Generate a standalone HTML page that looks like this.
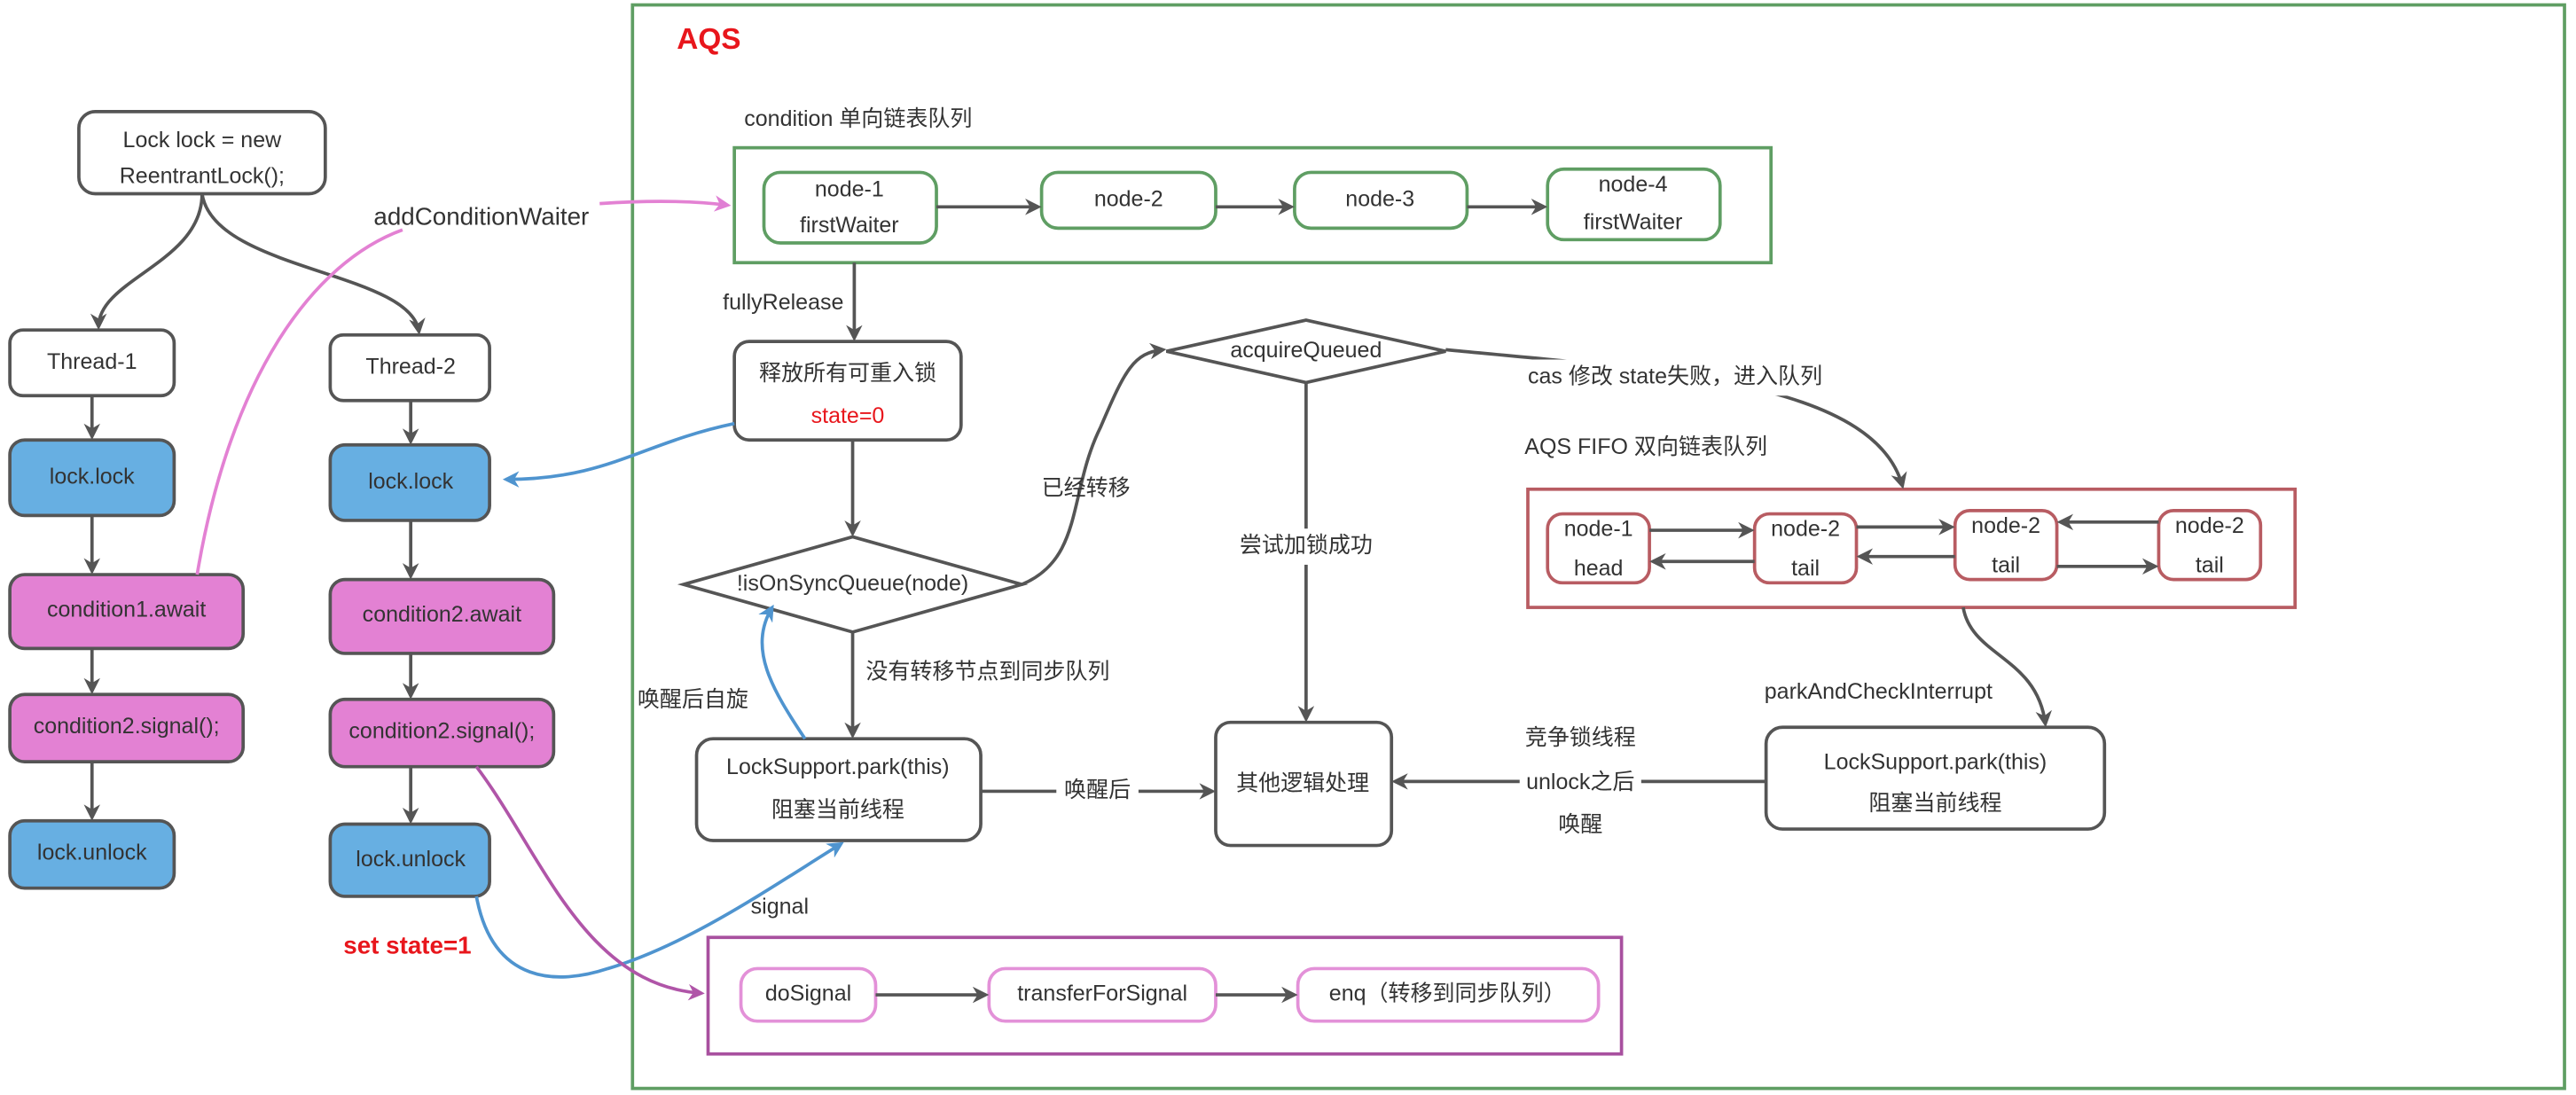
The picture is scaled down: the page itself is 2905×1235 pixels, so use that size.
<!DOCTYPE html>
<html><head><meta charset="utf-8"><style>
html,body{margin:0;padding:0;background:#fff;width:2905px;height:1235px;overflow:hidden}
svg{display:block}
text{font-family:"Liberation Sans","Noto Sans CJK SC",sans-serif;font-size:13.5px;fill:#333;text-anchor:middle;dominant-baseline:middle}
.l{text-anchor:start}
</style></head><body>
<svg width="2905" height="1235" viewBox="0 0 1568 667" preserveAspectRatio="none" xmlns="http://www.w3.org/2000/svg">
<defs>
<marker id="ag" markerWidth="10" markerHeight="10" refX="8" refY="5" orient="auto" markerUnits="userSpaceOnUse"><path d="M0,0 L10,5 L0,10 L3,5z" fill="#555"/></marker>
<marker id="ab" markerWidth="10" markerHeight="10" refX="8" refY="5" orient="auto" markerUnits="userSpaceOnUse"><path d="M0,0 L10,5 L0,10 L3,5z" fill="#4f94cf"/></marker>
<marker id="ap" markerWidth="10" markerHeight="10" refX="8" refY="5" orient="auto" markerUnits="userSpaceOnUse"><path d="M0,0 L10,5 L0,10 L3,5z" fill="#e07fd4"/></marker>
<marker id="am" markerWidth="10" markerHeight="10" refX="8" refY="5" orient="auto" markerUnits="userSpaceOnUse"><path d="M0,0 L10,5 L0,10 L3,5z" fill="#b055a8"/></marker>
</defs>
<g fill="none" stroke="#555" stroke-width="2">
<rect x="385" y="3" width="1176" height="660" stroke="#5f9e63"/>
<rect x="447" y="90" width="631" height="70" stroke="#5f9e63"/>
<rect x="930" y="298" width="467" height="72" stroke="#b85c62"/>
<rect x="431" y="571" width="556" height="71" stroke="#a8509f"/>
</g>
<text x="412" y="25" class="l" style="fill:#e8161c;font-weight:bold;font-size:18px">AQS</text>

<g stroke="#555" stroke-width="2">
<rect x="48" y="68" width="150" height="50" rx="10" fill="#fff"/>
<rect x="6" y="201" width="100" height="40" rx="8" fill="#fff"/>
<rect x="201" y="204" width="97" height="40" rx="8" fill="#fff"/>
<rect x="6" y="268" width="100" height="46" rx="9" fill="#67afe2"/>
<rect x="201" y="271" width="97" height="46" rx="9" fill="#67afe2"/>
<rect x="6" y="350" width="142" height="45" rx="9" fill="#e381d3"/>
<rect x="201" y="353" width="136" height="45" rx="9" fill="#e381d3"/>
<rect x="6" y="423" width="142" height="41" rx="9" fill="#e381d3"/>
<rect x="201" y="426" width="136" height="41" rx="9" fill="#e381d3"/>
<rect x="6" y="500" width="100" height="41" rx="9" fill="#67afe2"/>
<rect x="201" y="502" width="97" height="44" rx="9" fill="#67afe2"/>
</g>
<text x="123" y="86">Lock lock = new</text>
<text x="123" y="108">ReentrantLock();</text>
<text x="56" y="221">Thread-1</text>
<text x="250" y="224">Thread-2</text>
<text x="56" y="291">lock.lock</text>
<text x="250" y="294">lock.lock</text>
<text x="77" y="372">condition1.await</text>
<text x="269" y="375">condition2.await</text>
<text x="77" y="443">condition2.signal();</text>
<text x="269" y="446">condition2.signal();</text>
<text x="56" y="520">lock.unlock</text>
<text x="250" y="524">lock.unlock</text>
<text x="248" y="577" style="fill:#e8161c;font-weight:bold;font-size:15px">set state=1</text>
<text x="293" y="133" style="font-size:15px">addConditionWaiter</text>

<g fill="none" stroke="#555" stroke-width="2" marker-end="url(#ag)">
<path d="M123,118 C123,160 60,170 60,199"/>
<path d="M123,118 C130,165 250,165 255,202"/>
<path d="M56,241 V266"/><path d="M250,244 V269"/>
<path d="M56,314 V348"/><path d="M250,317 V351"/>
<path d="M56,395 V421"/><path d="M250,398 V424"/>
<path d="M56,464 V498"/><path d="M250,467 V500"/>
</g>

<text x="453" y="73" class="l">condition 单向链表队列</text>
<g fill="#fff" stroke="#5f9e63" stroke-width="2">
<rect x="465" y="105" width="105" height="43" rx="10"/>
<rect x="634" y="105" width="106" height="34" rx="10"/>
<rect x="788" y="105" width="105" height="34" rx="10"/>
<rect x="942" y="103" width="105" height="43" rx="10"/>
</g>
<text x="517" y="116">node-1</text><text x="517" y="138">firstWaiter</text>
<text x="687" y="122">node-2</text><text x="840" y="122">node-3</text>
<text x="994" y="113">node-4</text><text x="994" y="136">firstWaiter</text>

<g fill="#fff" stroke="#555" stroke-width="2">
<rect x="447" y="208" width="138" height="60" rx="9"/>
<path d="M416,356 L519,327 L622,356 L519,385 Z"/>
<path d="M710,214 L795,195 L880,214 L795,233 Z"/>
<rect x="424" y="450" width="173" height="62" rx="10"/>
<rect x="740" y="440" width="107" height="75" rx="9"/>
<rect x="1075" y="443" width="206" height="62" rx="10"/>
</g>
<text x="516" y="228">释放所有可重入锁</text>
<text x="516" y="254" style="fill:#e8161c">state=0</text>
<text x="519" y="356">!isOnSyncQueue(node)</text>
<text x="795" y="214">acquireQueued</text>
<text x="510" y="468">LockSupport.park(this)</text>
<text x="510" y="494">阻塞当前线程</text>
<text x="793" y="478">其他逻辑处理</text>
<text x="1178" y="465">LockSupport.park(this)</text>
<text x="1178" y="490">阻塞当前线程</text>

<text x="928" y="273" class="l">AQS FIFO 双向链表队列</text>
<g fill="#fff" stroke="#b85c62" stroke-width="2">
<rect x="942" y="313" width="62" height="42" rx="9"/>
<rect x="1068" y="313" width="62" height="42" rx="9"/>
<rect x="1190" y="311" width="62" height="42" rx="9"/>
<rect x="1314" y="311" width="62" height="42" rx="9"/>
</g>
<text x="973" y="323">node-1</text><text x="973" y="347">head</text>
<text x="1099" y="323">node-2</text><text x="1099" y="347">tail</text>
<text x="1221" y="321">node-2</text><text x="1221" y="345">tail</text>
<text x="1345" y="321">node-2</text><text x="1345" y="345">tail</text>

<g fill="#fff" stroke="#e391d8" stroke-width="2">
<rect x="451" y="590" width="82" height="32" rx="10"/>
<rect x="602" y="590" width="138" height="32" rx="10"/>
<rect x="790" y="590" width="183" height="32" rx="10"/>
</g>
<text x="492" y="606">doSignal</text>
<text x="671" y="606">transferForSignal</text>
<text x="881" y="606">enq（转移到同步队列）</text>

<g fill="none" stroke="#555" stroke-width="2" marker-end="url(#ag)">
<path d="M570,126 H632"/><path d="M740,126 H786"/><path d="M893,126 H940"/>
<path d="M520,160 V206"/>
<path d="M519,268 V325"/>
<path d="M622,356 C660,340 650,300 670,260 C685,225 690,215 708,213"/>
<path d="M880,213 C1000,225 1140,230 1158,296"/>
<path d="M795,233 V438"/>
<path d="M519,385 V448"/>
<path d="M597,482 H738"/>
<path d="M1195,370 C1200,400 1240,400 1245,441"/>
<path d="M1075,476 H849"/>
<path d="M1004,323 H1066"/><path d="M1068,342 H1006"/>
<path d="M1130,321 H1188"/><path d="M1190,339 H1132"/>
<path d="M1314,318 H1254"/><path d="M1252,345 H1312"/>
<path d="M533,606 H600"/><path d="M740,606 H788"/>
</g>

<!-- label backgrounds -->
<g fill="#fff">
<rect x="926" y="219" width="180" height="22"/>
<rect x="752" y="322" width="86" height="22"/>
<rect x="643" y="472" width="50" height="20"/>
<rect x="925" y="466" width="74" height="22"/>
</g>
<text x="440" y="185" class="l">fullyRelease</text>
<text x="634" y="298" class="l">已经转移</text>
<text x="930" y="230" class="l">cas 修改 state失败，进入队列</text>
<text x="795" y="333">尝试加锁成功</text>
<text x="527" y="410" class="l">没有转移节点到同步队列</text>
<text x="388" y="427" class="l">唤醒后自旋</text>
<text x="668" y="482">唤醒后</text>
<text x="1074" y="422" class="l">parkAndCheckInterrupt</text>
<text x="962" y="450">竞争锁线程</text>
<text x="962" y="477">unlock之后</text>
<text x="962" y="503">唤醒</text>
<text x="457" y="553" class="l">signal</text>

<g fill="none" stroke-width="2">
<path d="M120,350 C140,230 190,160 245,140" stroke="#e381d3"/>
<path d="M365,124 C395,122 420,122 443,125" stroke="#e381d3" marker-end="url(#ap)"/>
<path d="M447,258 C390,270 370,292 308,292" stroke="#4f94cf" marker-end="url(#ab)"/>
<path d="M490,450 C470,420 455,395 470,370" stroke="#4f94cf" marker-end="url(#ab)"/>
<path d="M290,546 C300,600 340,600 370,590 C420,575 470,540 512,514" stroke="#4f94cf" marker-end="url(#ab)"/>
<path d="M290,467 C330,520 355,600 427,605" stroke="#b055a8" marker-end="url(#am)"/>
</g>
</svg>
</body></html>
